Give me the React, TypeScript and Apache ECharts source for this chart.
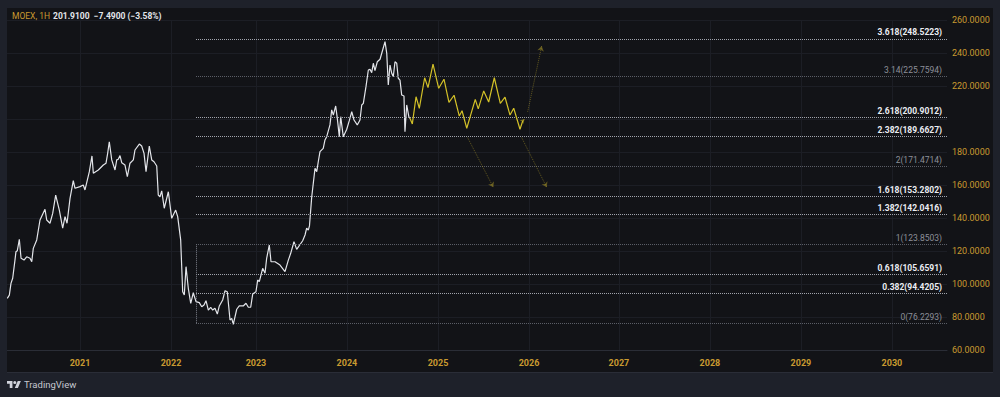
import React, { useEffect, useRef } from 'react';
import * as echarts from 'echarts';

// ---------- data ----------
// x unit: chart time in years (TradingView bar-time, slightly non-linear around the 2022 trading halt)
const yearTickValues = [2021.0, 2022.003, 2022.94, 2023.943, 2024.947, 2025.95, 2026.942, 2027.945, 2028.948, 2029.952];
const yearTickLabels = ['2021', '2022', '2023', '2024', '2025', '2026', '2027', '2028', '2029', '2030'];

const priceYears = [
  2020.198, 2020.221, 2020.239, 2020.258, 2020.283, 2020.294, 2020.309, 2020.331, 2020.350, 2020.383,
  2020.412, 2020.449, 2020.468, 2020.485, 2020.523, 2020.559, 2020.614, 2020.633, 2020.669, 2020.699,
  2020.732, 2020.772, 2020.809, 2020.835, 2020.857, 2020.890, 2020.926, 2020.945, 2021.000, 2021.036,
  2021.055, 2021.103, 2021.132, 2021.147, 2021.202, 2021.257, 2021.287, 2021.305, 2021.323, 2021.350,
  2021.386, 2021.405, 2021.422, 2021.441, 2021.460, 2021.496, 2021.522, 2021.551, 2021.588, 2021.606,
  2021.654, 2021.680, 2021.706, 2021.728, 2021.764, 2021.791, 2021.816, 2021.846, 2021.863, 2021.882,
  2021.901, 2021.929, 2021.974, 2022.011, 2022.055, 2022.077, 2022.110, 2022.132, 2022.150, 2022.169,
  2022.194, 2022.221, 2022.249, 2022.279, 2022.315, 2022.342, 2022.367, 2022.389, 2022.415, 2022.441,
  2022.463, 2022.488, 2022.514, 2022.536, 2022.573, 2022.599, 2022.624, 2022.654, 2022.673, 2022.690,
  2022.728, 2022.756, 2022.800, 2022.830, 2022.856, 2022.882, 2022.904, 2022.940, 2022.959, 2022.977,
  2022.996, 2023.014, 2023.040, 2023.058, 2023.087, 2023.106, 2023.150, 2023.205, 2023.260, 2023.297,
  2023.323, 2023.359, 2023.389, 2023.455, 2023.481, 2023.499, 2023.517, 2023.530, 2023.555, 2023.591,
  2023.610, 2023.627, 2023.646, 2023.682, 2023.701, 2023.720, 2023.756, 2023.775, 2023.793, 2023.819,
  2023.837, 2023.859, 2023.874, 2023.903, 2023.941, 2023.969, 2023.996, 2024.021, 2024.057, 2024.087,
  2024.106, 2024.124, 2024.153, 2024.179, 2024.197, 2024.216, 2024.234, 2024.252, 2024.278, 2024.308,
  2024.337, 2024.363, 2024.382, 2024.399, 2024.418, 2024.437, 2024.454, 2024.473, 2024.492, 2024.509,
  2024.528, 2024.547, 2024.572, 2024.583, 2024.602, 2024.627, 2024.638,
];
const priceValues = [
  91.3, 93.3, 100.4, 103.5, 114.5, 119.6, 120.2, 127.1, 115.6, 114.5,
  116.5, 115.6, 113.5, 121.6, 126.7, 138.8, 145.3, 138.8, 136.8, 142.8,
  153.9, 144.8, 133.8, 140.8, 136.8, 151.9, 162.6, 158.0, 159.0, 160.0,
  157.0, 168.1, 177.6, 167.1, 169.1, 172.1, 173.2, 179.2, 186.2, 175.2,
  169.1, 175.2, 175.6, 177.8, 173.5, 172.1, 165.0, 173.2, 175.2, 181.2,
  184.8, 183.6, 179.2, 168.1, 183.6, 175.2, 174.1, 171.5, 153.9, 152.9,
  156.4, 145.9, 155.9, 139.8, 144.8, 140.8, 126.7, 95.3, 93.3, 110.5,
  97.4, 88.3, 94.7, 89.3, 88.7, 86.2, 87.3, 89.9, 84.2, 85.9,
  84.2, 85.3, 81.8, 86.7, 90.3, 95.9, 95.3, 78.2, 79.2, 75.6,
  84.7, 86.7, 86.7, 88.3, 85.9, 85.9, 93.9, 95.3, 102.4, 101.4,
  105.5, 109.5, 106.5, 115.6, 123.6, 113.5, 113.5, 111.5, 107.5, 114.5,
  118.6, 125.6, 121.0, 126.2, 129.7, 133.8, 132.7, 135.2, 152.9, 170.1,
  168.1, 174.1, 180.2, 182.2, 187.3, 189.3, 196.4, 205.5, 202.4, 207.9,
  200.4, 189.3, 201.4, 189.3, 193.8, 199.0, 204.4, 199.4, 196.4, 199.4,
  208.5, 209.5, 219.6, 229.7, 230.1, 228.1, 233.8, 229.3, 234.7, 236.2,
  241.8, 246.9, 239.8, 220.6, 232.7, 227.7, 225.6, 234.7, 233.8, 224.7,
  223.6, 214.5, 213.9, 192.3, 208.5, 201.0, 200.4,
];

const projYears = [
  2024.638, 2024.664, 2024.705, 2024.741, 2024.800, 2024.837, 2024.892, 2024.955, 2025.013, 2025.068,
  2025.124, 2025.182, 2025.212, 2025.264, 2025.358, 2025.391, 2025.451, 2025.506, 2025.568, 2025.634,
  2025.686, 2025.741, 2025.782, 2025.851, 2025.881,
];
const projValues = [
  200.4, 197.0, 213.5, 206.5, 225.0, 219.0, 233.3, 218.6, 224.1, 210.1,
  214.4, 201.8, 205.0, 194.4, 211.9, 206.1, 217.0, 210.3, 225.0, 209.5,
  213.2, 202.4, 206.5, 193.8, 198.8,
];
const projTipYears = [2025.881, 2025.899];
const projTipValues = [198.8, 199.8];

const arrowStartYears = [2025.936, 2025.274, 2025.870];
const arrowStartValues = [204.4, 188.7, 188.7];
const arrowEndYears = [2026.090, 2025.557, 2026.146];
const arrowEndValues = [244.2, 158.6, 158.6];

const fibStartYear = 2022.279;
const fibRatios = ['3.618', '3.14', '2.618', '2.382', '2', '1.618', '1.382', '1', '0.618', '0.382', '0'];
const fibValues = [248.5223, 225.7594, 200.9012, 189.6627, 171.4714, 153.2802, 142.0416, 123.8503, 105.6591, 94.4205, 76.2293];
const fibMajor = [true, false, true, true, false, true, true, false, true, true, false];

const lastPrice = 201.91;
const titleSymbol = 'MOEX, 1H';
const titleQuote = '201.9100  −7.4900 (−3.58%)';

const xMin = 2020;
const xMax = 2030.559;
const yMin = 60;
const yMax = 260;

// ---------- styles ----------
const BG = '#121317';
const FRAME = '#1e212a';
const GOLD = '#c99a30';
const GRIDC = '#1c1e25';
const FONT = 'Roboto, "Noto Sans", sans-serif';

echarts.graphic.registerShape(
  'tvlogo',
  echarts.graphic.extendPath(
    'M14 22H7V11H0V4h14v18zM28 22h-8l7.5-18h8L28 22zM16 8a4 4 0 1 0 8 0a4 4 0 1 0 -8 0z',
    {}
  )
);

function yearLabel(v: number): string {
  let best = -1;
  let bestD = Infinity;
  yearTickValues.forEach((t, i) => {
    const d = Math.abs(t - v);
    if (d < bestD) {
      bestD = d;
      best = i;
    }
  });
  return bestD < 0.01 ? yearTickLabels[best] : '';
}

export default function App() {
  const ref = useRef<HTMLDivElement>(null);

  useEffect(() => {
    if (!ref.current) return;
    const chart = echarts.init(ref.current, null, { renderer: 'svg' });

    const fibLines: any[] = fibValues.map((v, i) => {
      const major = fibMajor[i];
      return [
        {
          coord: [fibStartYear, v],
          lineStyle: { color: major ? '#a1a4ad' : '#5b5e67', type: 'dotted', width: 1 },
          label: {
            show: true,
            position: 'insideEndTop',
            distance: [5, 2],
            formatter: `${fibRatios[i]}(${v.toFixed(4)})`,
            color: major ? '#eceef3' : '#8d9099',
            fontWeight: major ? 'bold' : 'normal',
            fontSize: 8.5,
            fontFamily: FONT,
          },
        },
        { coord: [xMax, v] },
      ];
    });
    fibLines.push([
      {
        coord: [fibStartYear, fibValues[fibValues.length - 1]],
        lineStyle: { color: '#7d808a', type: 'dotted', width: 1 },
        label: { show: false },
      },
      { coord: [fibStartYear, fibValues[7]] },
    ]);
    fibLines.push({
      yAxis: lastPrice,
      lineStyle: { opacity: 0, width: 0 },
      label: {
        show: true,
        position: 'end',
        distance: 0,
        formatter: lastPrice.toFixed(4),
        backgroundColor: '#22c3d8',
        color: '#0f1218',
        fontSize: 9,
        fontFamily: FONT,
        padding: [2, 5, 1, 4],
      },
    });

    const option: any = {
      animation: false,
      backgroundColor: BG,
      textStyle: { fontFamily: FONT },
      grid: {
        left: -10.7,
        right: 53,
        top: 20,
        bottom: 47,
        containLabel: false,
        outerBoundsMode: 'none',
      },
      xAxis: {
        type: 'value',
        min: xMin,
        max: xMax,
        axisLine: { show: true, lineStyle: { color: '#2a2d36' } },
        axisTick: { show: false, customValues: yearTickValues },
        splitLine: { show: true, lineStyle: { color: GRIDC, width: 1 } },
        axisLabel: {
          customValues: yearTickValues,
          color: GOLD,
          fontSize: 9,
          fontWeight: 'bold',
          margin: 8,
          formatter: (v: number) => yearLabel(v),
        },
      },
      yAxis: {
        type: 'value',
        position: 'right',
        min: yMin,
        max: yMax,
        interval: 20,
        axisLine: { show: false },
        axisTick: { show: false },
        splitLine: { show: true, lineStyle: { color: GRIDC, width: 1 } },
        axisLabel: {
          color: GOLD,
          fontSize: 9,
          margin: 5,
          formatter: (v: number) => (Math.abs(v - lastPrice) < 8 ? '' : v.toFixed(4)),
        },
      },
      series: [
        {
          name: 'MOEX',
          type: 'line',
          data: priceYears.map((x, i) => [x, priceValues[i]]),
          showSymbol: false,
          symbol: 'none',
          lineStyle: { color: '#e3e5ea', width: 1.2 },
          z: 4,
          markLine: {
            silent: true,
            symbol: ['none', 'none'],
            animation: false,
            data: fibLines,
          },
        },
        {
          name: 'Projection',
          type: 'line',
          data: projYears.map((x, i) => [x, projValues[i]]),
          showSymbol: false,
          symbol: 'none',
          lineStyle: { color: '#d3c128', width: 1.2 },
          z: 5,
        },
        {
          name: 'ProjectionTip',
          type: 'lines',
          coordinateSystem: 'cartesian2d',
          symbol: ['none', 'arrow'],
          symbolSize: 4,
          lineStyle: { color: '#d3c128', width: 1.2 },
          data: [{ coords: projTipYears.map((x, i) => [x, projTipValues[i]]) }],
          z: 5,
        },
        {
          name: 'Arrows',
          type: 'lines',
          coordinateSystem: 'cartesian2d',
          symbol: ['none', 'arrow'],
          symbolSize: 5,
          lineStyle: { color: '#b09c2a', width: 1, type: 'dotted' },
          data: arrowStartYears.map((x, i) => ({
            coords: [
              [x, arrowStartValues[i]],
              [arrowEndYears[i], arrowEndValues[i]],
            ],
          })),
          z: 5,
        },
      ],
      graphic: [
        { type: 'rect', z: 100, shape: { x: 947, y: 353, width: 46, height: 19 }, style: { fill: BG } },
        { type: 'rect', z: 101, shape: { x: 0, y: 0, width: 7, height: 397 }, style: { fill: FRAME } },
        { type: 'rect', z: 101, shape: { x: 0, y: 0, width: 1000, height: 8 }, style: { fill: FRAME } },
        { type: 'rect', z: 101, shape: { x: 993, y: 0, width: 7, height: 397 }, style: { fill: FRAME } },
        { type: 'rect', z: 101, shape: { x: 0, y: 372, width: 1000, height: 25 }, style: { fill: FRAME } },
        { type: 'rect', z: 102, shape: { x: 7, y: 372, width: 986, height: 1 }, style: { fill: '#2a2d37' } },
        {
          type: 'text',
          z: 103,
          x: 12,
          y: 16,
          style: {
            text: `{a|${titleSymbol}} {b|${titleQuote}}`,
            verticalAlign: 'middle',
            fontFamily: FONT,
            rich: {
              a: { fill: GOLD, fontSize: 8.5, fontFamily: FONT },
              b: { fill: '#e3e5ea', fontSize: 8.5, fontWeight: 'bold', fontFamily: FONT },
            },
          },
        },
        {
          type: 'tvlogo',
          z: 103,
          x: 7,
          y: 379.4,
          scaleX: 0.39,
          scaleY: 0.39,
          style: { fill: '#d1d4dc' },
        },
        {
          type: 'text',
          z: 103,
          x: 24,
          y: 384,
          style: {
            text: 'TradingView',
            fill: '#c5c8d0',
            fontSize: 9.5,
            fontFamily: FONT,
            verticalAlign: 'middle',
          },
        },
      ],
    };

    chart.setOption(option);
    return () => chart.dispose();
  }, []);

  return (
    <div
      ref={ref}
      style={{ position: 'fixed', left: 0, top: 0, width: 1000, height: 397 }}
    />
  );
}
